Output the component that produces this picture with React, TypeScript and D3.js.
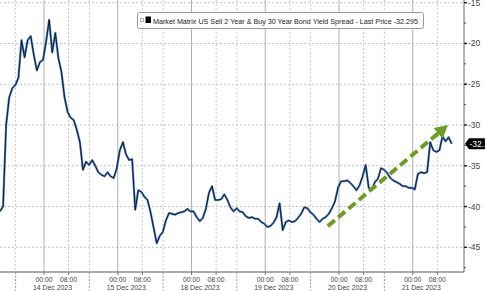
import React from "react";
import * as d3 from "d3";

// ---- data (hourly readings, session time) ----
const spreadValues: number[] = [
  -40.6, -40.0, -30.0, -26.6, -25.5, -25.1, -24.2, -19.6, -21.7, -19.6,
  -19.1, -21.4, -23.3, -22.3, -22.0, -19.8, -17.1, -21.1, -18.7, -21.8,
  -23.5, -26.6, -28.4, -29.1, -29.4, -30.6, -32.1, -35.5, -34.5, -34.9,
  -34.3, -35.0, -35.8, -36.1, -36.3, -35.8, -36.3, -36.5, -35.3, -33.1,
  -32.1, -33.6, -34.3, -34.2, -40.4, -38.0, -38.2, -38.8, -39.2, -40.7,
  -42.6, -44.5, -43.6, -43.1, -41.7, -40.8, -40.9, -41.0, -40.8, -40.7,
  -40.6, -40.3, -40.6, -40.6, -41.3, -41.8, -41.4, -40.3, -38.3, -37.5,
  -39.2, -39.2, -39.1, -38.5, -39.2, -40.1, -40.6, -40.2, -40.6, -40.7,
  -41.2, -41.4, -41.3, -41.5, -41.5, -41.9, -42.1, -42.5, -42.4, -42.0,
  -41.3, -39.6, -42.9, -41.9, -41.7, -41.9, -41.8, -41.4, -40.9, -40.1,
  -40.2, -40.7, -41.0, -41.5, -41.9, -41.5, -41.3, -40.9, -40.2, -39.4,
  -37.7, -36.9, -36.9, -36.8, -37.1, -37.5, -38.0, -37.4, -36.3, -34.9,
  -37.7, -37.9, -37.0, -36.6, -35.3, -35.5, -35.9, -36.5, -36.8, -37.0,
  -37.2, -37.5, -37.5, -37.7, -37.7, -37.9, -36.0, -35.8, -35.9, -35.8,
  -32.1, -33.1, -33.3, -33.1, -31.4, -32.0, -31.5, -32.295,
];

const dayLabels: string[] = [
  "14 Dec 2023", "15 Dec 2023", "18 Dec 2023", "19 Dec 2023", "20 Dec 2023", "21 Dec 2023",
];
const hourLabels: string[] = ["00:00", "08:00"];
const yMajorTicks: number[] = [-15, -20, -25, -30, -35, -40, -45];
const yMinorTicks: number[] = [-17.5, -22.5, -27.5, -32.5, -37.5, -42.5, -47.5];
const legendText = "Market Matrix US Sell 2 Year & Buy 30 Year Bond Yield Spread - Last Price -32.295";
const lastPrice = -32.295;
const lastPriceText = "-32.295";
// trend arrow annotation [session hour, value]
const arrowFrom: [number, number] = [106.7, -42.4];
const arrowTo: [number, number] = [145.8, -30.0];

// session layout (hours)
const SESSION_START = 5.08;
const SESSION_LEN = 24;
const MIDNIGHT_OFFSET = 9.24;
const HOUR_OFFSETS = [0, 8];

const FONT = "'Liberation Sans', Arial, sans-serif";

export default function App() {
  const W = 485, H = 291;
  const plotRight = 464;
  const plotBottom = 272;
  const x = d3.scaleLinear().domain([0, 151]).range([0, plotRight]);
  const y = d3.scaleLinear().domain([-14.67, -48.03]).range([0, plotBottom]);

  const line = d3.line<number>().x((_, i) => x(i)).y((d) => y(d));
  const path = line(spreadValues) || "";

  const boundaries = dayLabels.map((_, k) => SESSION_START + SESSION_LEN * k);

  // arrow geometry
  const p0 = [x(arrowFrom[0]), y(arrowFrom[1])];
  const p1 = [x(arrowTo[0]), y(arrowTo[1])];
  const dx = p1[0] - p0[0], dy = p1[1] - p0[1];
  const len = Math.hypot(dx, dy);
  const ux = dx / len, uy = dy / len;
  const headLen = 13, headW = 7;
  const bx = p1[0] - ux * headLen, by = p1[1] - uy * headLen;
  const head = [
    [p1[0], p1[1]],
    [bx - uy * headW, by + ux * headW],
    [bx + uy * headW, by - ux * headW],
  ].map((p) => p.join(",")).join(" ");

  const ly = y(lastPrice);

  return (
    <svg width={W} height={H} style={{ position: "absolute", left: 0, top: 0, background: "#fff" }}>
      <rect x={0} y={0} width={W} height={H} fill="#fff" />
      {/* horizontal grid */}
      {yMajorTicks.map((t) => (
        <line key={"hg" + t} x1={0} x2={plotRight} y1={y(t)} y2={y(t)} stroke="#c4c4c4" strokeWidth={1} strokeDasharray="2,2" />
      ))}
      {/* vertical grid */}
      {boundaries.map((b, k) => (
        <g key={"vg" + k}>
          <line x1={x(b)} x2={x(b)} y1={0} y2={plotBottom} stroke="#c8c8c8" strokeDasharray="2,2" />
          <line x1={x(b + MIDNIGHT_OFFSET)} x2={x(b + MIDNIGHT_OFFSET)} y1={0} y2={plotBottom} stroke="#b0b0b0" />
          <line x1={x(b + MIDNIGHT_OFFSET + 8)} x2={x(b + MIDNIGHT_OFFSET + 8)} y1={0} y2={plotBottom} stroke="#c8c8c8" strokeDasharray="2,2" />
        </g>
      ))}
      {/* series */}
      <path d={path} fill="none" stroke="#4f7fbf" strokeWidth={2.2} strokeLinejoin="round" />
      <path d={path} fill="none" stroke="#0e1c33" strokeWidth={1} strokeLinejoin="round" />
      {/* arrow */}
      <line x1={p0[0]} y1={p0[1]} x2={bx + ux} y2={by + uy} stroke="#6f9c22" strokeWidth={4} strokeDasharray="9,4.5" />
      <polygon points={head} fill="#6f9c22" />
      {/* legend */}
      <rect x={137.5} y={12.5} width={286} height={16} rx={2} fill="#fff" stroke="#9a9a9a" />
      <rect x={140.5} y={18.5} width={3} height={3} fill="#fff" stroke="#999" strokeWidth={0.8} />
      <rect x={145.5} y={16.5} width={5.5} height={6.5} fill="#000" />
      <text x={153} y={24} fontFamily={FONT} fontSize={8} fill="#222" textLength={265} lengthAdjust="spacingAndGlyphs">{legendText}</text>
      {/* y axis */}
      <line x1={plotRight} x2={plotRight} y1={0} y2={plotBottom} stroke="#666" />
      {yMajorTicks.map((t) => (
        <g key={"yt" + t}>
          <line x1={plotRight} x2={plotRight + 3} y1={y(t)} y2={y(t)} stroke="#222" strokeWidth={1.5} />
          <text x={plotRight + 4} y={y(t) + 3} fontFamily={FONT} fontSize={8.5} fill="#444">{t}</text>
        </g>
      ))}
      {yMinorTicks.map((t) => (
        <line key={"ym" + t} x1={plotRight} x2={plotRight + 2} y1={y(t)} y2={y(t)} stroke="#444" />
      ))}
      {/* last price label */}
      <polygon points={`${plotRight + 1},${ly} ${plotRight + 5},${ly - 5.5} ${W + 2},${ly - 5.5} ${W + 2},${ly + 5.5} ${plotRight + 5},${ly + 5.5}`} fill="#000" />
      <text x={plotRight + 5.5} y={ly + 3} fontFamily={FONT} fontSize={8.5} fill="#fff">{lastPriceText}</text>
      {/* x axis */}
      <line x1={0} x2={plotRight} y1={plotBottom} y2={plotBottom} stroke="#555" />
      {boundaries.map((b, k) => (
        <g key={"xt" + k}>
          <line x1={x(b)} x2={x(b)} y1={plotBottom} y2={H} stroke="#999" strokeDasharray="2,1.5" />
          {HOUR_OFFSETS.map((h, j) => (
            <g key={j}>
              <line x1={x(b + MIDNIGHT_OFFSET + h)} x2={x(b + MIDNIGHT_OFFSET + h)} y1={plotBottom} y2={plotBottom + 3} stroke="#777" />
              <text x={x(b + MIDNIGHT_OFFSET + h) - 8.5} y={281.5} fontFamily={FONT} fontSize={8} fill="#444" textLength={17} lengthAdjust="spacingAndGlyphs">{hourLabels[j]}</text>
            </g>
          ))}
          <text x={x(b + SESSION_LEN / 2) - 19.5} y={289.5} fontFamily={FONT} fontSize={8} fill="#444" textLength={39} lengthAdjust="spacingAndGlyphs">{dayLabels[k]}</text>
        </g>
      ))}
    </svg>
  );
}
